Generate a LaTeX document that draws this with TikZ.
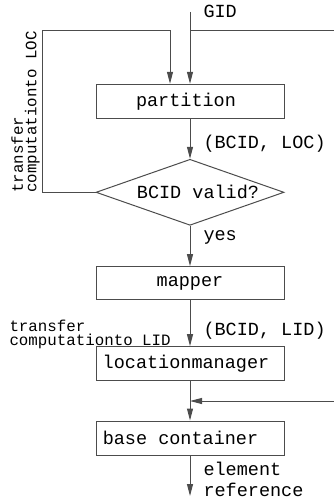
\documentclass[tikz,border=0pt]{standalone}
\usepackage{fontspec}
\setmonofont{Liberation Mono}
\usetikzlibrary{arrows.meta,shapes.geometric}
\begin{document}
\begin{tikzpicture}[x=1pt,y=-1pt,line width=1pt,
  ln/.style={draw=black!70},
  arr/.style={ln,-{Triangle[length=12pt,width=6pt]}},
  big/.style={font=\ttfamily\fontsize{18.5}{21}\selectfont,inner sep=0pt},
  small/.style={font=\ttfamily\fontsize{15.8}{13.5}\selectfont,inner sep=0pt},
  box/.style={draw=black!70,minimum width=188pt,minimum height=34pt,inner sep=0pt},
  dia/.style={draw=black!70,diamond,minimum width=188pt,minimum height=66pt,inner sep=0pt}]
\useasboundingbox (0,0) rectangle (334,500);
% nodes
\node[box,label={[big,xshift=-4pt]center:partition}] (part) at (190,101.3) {};
\node[dia,label={[big,xshift=8pt]center:BCID valid?}] (valid) at (190,192.3) {};
\node[box,minimum height=33.3pt,label={[big]center:mapper}] (map) at (190,283.3) {};
\node[box,label={[big,xshift=-4pt]center:locationmanager}] (lm) at (190,363.7) {};
\node[box,label={[big,xshift=-9.5pt]center:base container}] (bc) at (190,438) {};
% coordinates
\coordinate (gidtop) at (190,12);
\coordinate (gj) at (190,31);
\coordinate (rt) at (334,31);
\coordinate (lc) at (42,31);
\coordinate (lt) at (170,31);
\coordinate (rin) at (334,401);
\coordinate (jn) at (190,401);
\coordinate (out) at (190,496);
% connectors
\draw[arr] (gidtop) -- (part.north);
\draw[ln] (gj) -- (rt);
\draw[arr] (valid.west) -| (lc) -- (lt) -- (lt |- part.north);
\draw[arr] (part.south) -- (valid.north);
\draw[arr] (valid.south) -- (map.north);
\draw[arr] (map.south) -- (lm.north);
\draw[arr] (lm.south) -- (bc.north);
\draw[arr] (rin) -- (jn);
\draw[arr] (bc.south) -- (out);
% labels
\node[big,anchor=base west] (lgid) at (203,18) {GID};
\node[big,anchor=base west] (lloc) at (203,148) {(BCID, LOC)};
\node[big,anchor=base west] (lyes) at (203,240) {yes};
\node[big,anchor=base west] (llid) at (203,335) {(BCID, LID)};
\node[big,anchor=base west] (lel) at (203,475) {element};
\node[big,anchor=base west] (lref) at (203,496) {reference};
\node[small,align=left,anchor=north west] (ttop) at (9,320) {transfer\\computationto LID};
\node[small,align=left,anchor=north west,rotate=90] (tleft) at (11,193) {transfer\\computationto LOC};
\end{tikzpicture}
\end{document}
